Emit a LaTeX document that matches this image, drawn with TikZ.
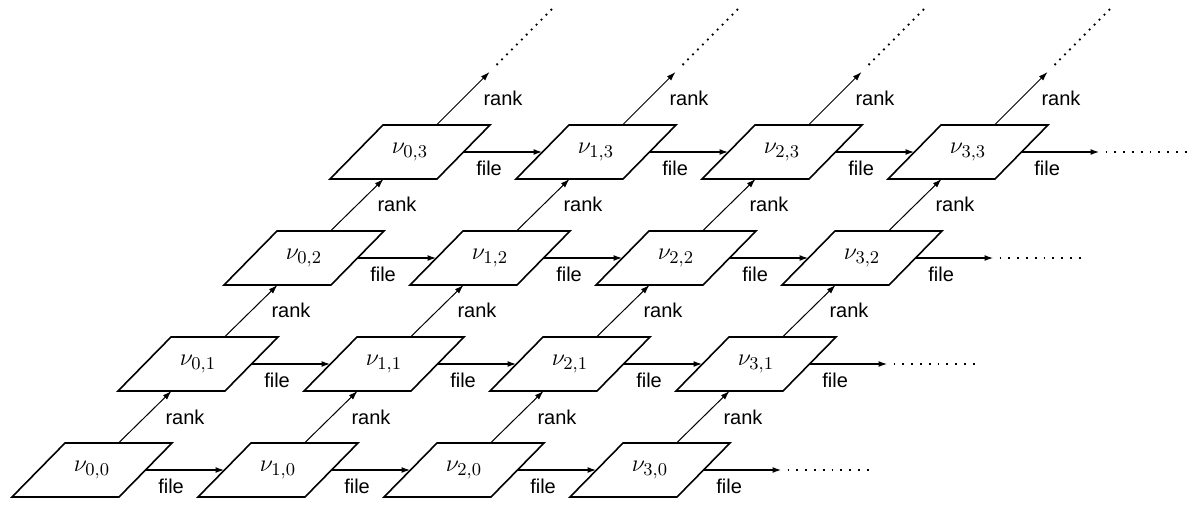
\documentclass[tikz,border=0pt]{standalone}
\usepackage{fontspec}
\setmainfont{Liberation Sans}
\usetikzlibrary{calc,arrows.meta}
\begin{document}
\begin{tikzpicture}[x=0.5pt,y=-0.5pt,
  cell/.style={inner sep=0pt, font=\fontsize{13}{15}\selectfont},
  side/.style={line width=0.8pt, line join=miter},
  filearrow/.style={line width=0.8pt, -{Latex[length=4.5pt,width=3pt]}},
  rankarrow/.style={line width=0.5pt, -{Latex[length=4.5pt,width=3pt]}},
  lab/.style={inner sep=0pt, anchor=north west, font=\fontsize{10}{12}\selectfont},
  hdots/.style={line width=0.9pt, dash pattern=on 0.9pt off 3.5pt},
  ddots/.style={line width=0.9pt, dash pattern=on 0.9pt off 2.6pt}]
\useasboundingbox (0,0) rectangle (1193,504);

% grid of states with their parallelogram frames
\foreach \i in {0,...,3} \foreach \j in {0,...,3} {
  \node[cell] (v\i\j) at ({92+186*\i+106*\j},{470-106*\j}) {$\nu_{\i,\j}$};
  \draw[side] ($(v\i\j)+(-80,27)$) -- ++(107,0) -- ++(53,-54) -- ++(-107,0) -- cycle;
}

% file moves along each row
\foreach \j in {0,...,3} {
  \foreach \i/\k in {0/1,1/2,2/3} {
    \draw[filearrow] ($(v\i\j)+(53.5,0)$) -- ($(v\k\j)+(-53.5,0)$)
      node[lab, pos=0, xshift=6pt, yshift=-4pt] {file};
  }
  \coordinate (fend\j) at ($(v3\j)+(131.5,0)$);
  \draw[filearrow] ($(v3\j)+(53.5,0)$) -- (fend\j)
    node[lab, pos=0, xshift=6pt, yshift=-4pt] {file};
  \draw[hdots] ($(fend\j)+(6,0)$) -- ++(84,0);
}

% rank moves up each column
\foreach \i in {0,...,3} {
  \foreach \j/\k in {0/1,1/2,2/3} {
    \draw[rankarrow] ($(v\i\j)+(26.5,-27)$) -- ($(v\i\k)+(-26.5,27)$)
      node[lab, pos=0.5, xshift=10pt, yshift=4pt] {rank};
  }
  \coordinate (rend\i) at ($(v\i3)+(79.5,-80)$);
  \draw[rankarrow] ($(v\i3)+(26.5,-27)$) -- (rend\i)
    node[lab, pos=0.5, xshift=10pt, yshift=4pt] {rank};
  \draw[ddots] ($(rend\i)+(7,-7)$) -- ($(v\i3)+(142,-143)$);
}
\end{tikzpicture}
\end{document}
